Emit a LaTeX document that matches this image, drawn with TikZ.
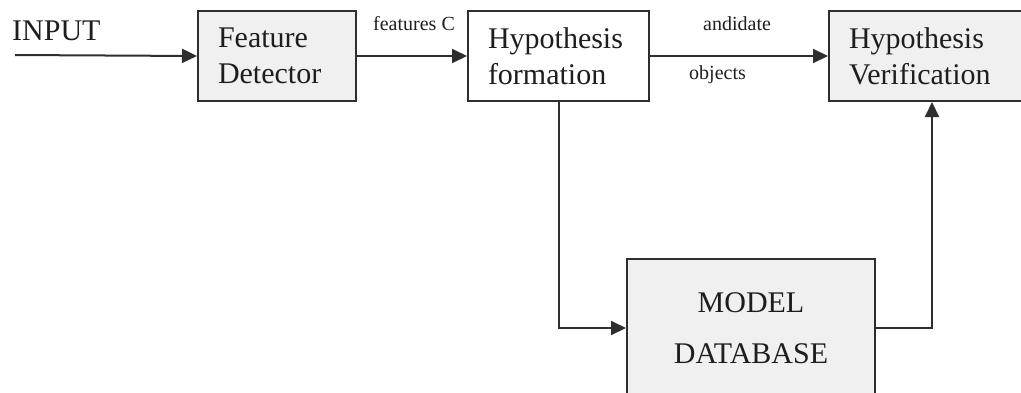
\documentclass[tikz,border=0pt]{standalone}
\usepackage{fontspec}
\setmainfont{Liberation Serif}
\usetikzlibrary{arrows.meta}

\definecolor{linegray}{HTML}{2E2E2E}
\definecolor{boxfill}{HTML}{F0F0F0}
\definecolor{inkgray}{HTML}{1E1E1E}

\tikzset{
  blockbox/.style={draw=linegray, line width=2pt, rectangle, anchor=north west,
    inner xsep=20pt, inner ysep=0pt, align=flush left, text=inkgray,
    font=\fontsize{30}{36}\selectfont},
  flow/.style={draw=linegray, line width=2pt,
    -{Triangle[length=15pt,width=14pt]}},
  plain/.style={draw=linegray, line width=2pt},
  smalllabel/.style={anchor=base west, inner sep=0pt, text=inkgray,
    font=\fontsize{20}{24}\selectfont},
}

\begin{document}
\begin{tikzpicture}[x=1pt, y=-1pt]
  \useasboundingbox (0,0) rectangle (1021,392);
  \clip (0,0) rectangle (1021,392);

  % processing blocks
  \node[blockbox, fill=boxfill, minimum width=158pt, minimum height=90pt,
        text width=118pt] (fd) at (197,10) {Feature\\Detector};
  \node[blockbox, fill=white, minimum width=181pt, minimum height=90pt,
        text width=141pt] (hf) at (467,10) {Hypothesis\\formation};
  \node[blockbox, fill=boxfill, minimum width=206pt, minimum height=90pt,
        text width=166pt] (hv) at (828,10) {Hypothesis\\Verification};
  \node[blockbox, fill=boxfill, minimum width=248pt, minimum height=138pt,
        text width=208pt, align=center,
        font=\fontsize{30}{51}\selectfont] (db) at (626,258) {MODEL\\DATABASE};

  % free input end
  \coordinate (in) at (15,55);
  \node[smalllabel, font=\fontsize{30}{36}\selectfont] (inlbl) at (12,40) {INPUT};

  % edge labels
  \node[smalllabel] (lblfeat) at (373,30) {features C};
  \node[smalllabel] (lblcand) at (703,30) {andidate};
  \node[smalllabel] (lblobj) at (689,79) {objects};

  % connectors
  \draw[flow] (in) -- (fd.west);
  \draw[flow] (fd.east) -- (hf.west);
  \draw[flow] (hf.east) -- (hv.west);
  \draw[flow] (hf.south) |- (db.west);
  \draw[flow] (db.east) -| (hv.south);
\end{tikzpicture}
\end{document}
